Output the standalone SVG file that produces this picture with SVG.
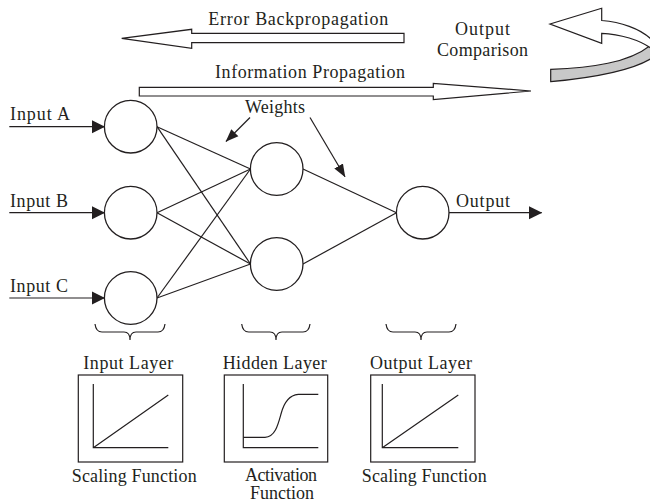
<svg xmlns="http://www.w3.org/2000/svg" width="650" height="504" viewBox="0 0 650 504">
<defs>
<style>
.t{font-family:'Liberation Serif','Times New Roman','DejaVu Serif',serif;font-size:18px;fill:#231f20}
.ln{stroke:#231f20;stroke-width:1.2;fill:none}
.nd{stroke:#231f20;stroke-width:1.3;fill:#fff}
.big{stroke:#231f20;stroke-width:1.2;fill:#fff}
</style>
<marker id="ah" markerWidth="14" markerHeight="14" viewBox="0 0 14 14" refX="13" refY="7" orient="auto" markerUnits="userSpaceOnUse">
<path d="M0,0.3 L13.5,7 L0,13.7 Z" fill="#231f20"/>
</marker>
<marker id="ahs" markerWidth="13" markerHeight="11" viewBox="0 0 13 11" refX="12.5" refY="5.5" orient="auto" markerUnits="userSpaceOnUse">
<path d="M0,0.5 L13,5.5 L0,10.5 Z" fill="#231f20"/>
</marker>
</defs>
<rect width="650" height="504" fill="#fff"/>

<g font-family="'Liberation Serif','Times New Roman','DejaVu Serif',serif" font-size="18">
<g id="error-backprop">
<path class="big" d="M121.7,38.3 L191.7,29.3 L191.7,33.3 L404,33.3 L404,42.7 L191.7,42.7 L191.7,48.3 Z"/>
<text class="t" x="208.3" y="25" textLength="180" lengthAdjust="spacing">Error Backpropagation</text>
</g>
<g id="info-prop">
<path class="big" d="M139.3,87.3 L433.3,87.3 L433.3,83.3 L531,91 L433.3,99.5 L433.3,96 L139.3,96 Z"/>
<text class="t" x="215" y="78" textLength="190" lengthAdjust="spacing">Information Propagation</text>
</g>
<g id="output-comparison">
<path d="M550.7,69.3 C590,68 630,63 652,44 L652,58 C630,72 590,78 550.7,81.7 Z" fill="#c8c8c8" stroke="#231f20" stroke-width="1.2"/>
<path class="big" d="M550,24 L601.7,8.3 L601.7,20.5 C620,22 640,28 652,40 L652,49 C640,40 620,34 601.7,33.3 L601.7,43.3 Z"/>
<text class="t" x="455" y="35" textLength="55" lengthAdjust="spacing">Output</text>
<text class="t" x="437" y="55.5" textLength="91" lengthAdjust="spacing">Comparison</text>
</g>

<g id="connectors">
<line class="ln" x1="9.3" y1="126.7" x2="104.5" y2="126.7" marker-end="url(#ah)"/>
<line class="ln" x1="9.3" y1="212.7" x2="104.5" y2="212.7" marker-end="url(#ah)"/>
<line class="ln" x1="9.3" y1="298" x2="104.5" y2="298" marker-end="url(#ah)"/>
<line class="ln" x1="157" y1="126.7" x2="250.5" y2="169"/>
<line class="ln" x1="157" y1="126.7" x2="250.5" y2="264"/>
<line class="ln" x1="157" y1="212.7" x2="250.5" y2="169"/>
<line class="ln" x1="157" y1="212.7" x2="250.5" y2="264"/>
<line class="ln" x1="157" y1="298" x2="250.5" y2="169"/>
<line class="ln" x1="157" y1="298" x2="250.5" y2="264"/>
<line class="ln" x1="303" y1="169" x2="396.5" y2="212.7"/>
<line class="ln" x1="303" y1="264" x2="396.5" y2="212.7"/>
<line class="ln" x1="449" y1="212.7" x2="541.7" y2="212.7" marker-end="url(#ah)"/>
<line class="ln" x1="250" y1="117.5" x2="226" y2="141.5" marker-end="url(#ahs)"/>
<line class="ln" x1="310" y1="117.5" x2="345" y2="176.7" marker-end="url(#ahs)"/>
</g>

<text class="t" x="10" y="120" textLength="60" lengthAdjust="spacing">Input A</text>
<text class="t" x="10" y="206.5" textLength="58" lengthAdjust="spacing">Input B</text>
<text class="t" x="10" y="291.5" textLength="58" lengthAdjust="spacing">Input C</text>
<text class="t" x="245" y="112.7" textLength="60" lengthAdjust="spacing">Weights</text>
<text class="t" x="456" y="207" textLength="54" lengthAdjust="spacing">Output</text>

<g id="input-a"><circle class="nd" cx="130.7" cy="126.7" r="26.3"/></g>
<g id="input-b"><circle class="nd" cx="130.7" cy="212.7" r="26.3"/></g>
<g id="input-c"><circle class="nd" cx="130.7" cy="298" r="26.3"/></g>
<g id="hidden-1"><circle class="nd" cx="276.7" cy="169" r="26.3"/></g>
<g id="hidden-2"><circle class="nd" cx="276.7" cy="264" r="26.3"/></g>
<g id="output-node"><circle class="nd" cx="422.7" cy="212.7" r="26.3"/></g>

<g id="input-layer">
<path class="ln" d="M95,324 Q96,332 102,332 L124,332 Q130,332 130,340 Q130,332 136,332 L158,332 Q164,332 165,324"/>
<text class="t" x="83.3" y="369.3" textLength="90" lengthAdjust="spacing">Input Layer</text>
<rect class="ln" x="78.3" y="375" width="104.4" height="87"/>
<path class="ln" d="M93.3,384 L93.3,447.7 L168.3,447.7 M93.3,447.7 L168.3,395"/>
<text class="t" x="71.7" y="481.7" textLength="125" lengthAdjust="spacing">Scaling Function</text>
</g>
<g id="hidden-layer">
<path class="ln" d="M241.7,324 Q242.7,332 248.7,332 L270,332 Q276,332 276,340 Q276,332 282,332 L303,332 Q309,332 310,324"/>
<text class="t" x="222.7" y="369.3" textLength="104" lengthAdjust="spacing">Hidden Layer</text>
<rect class="ln" x="224.3" y="375" width="103.4" height="87"/>
<path class="ln" d="M243.3,384 L243.3,447.7 L318.3,447.7"/>
<path class="ln" d="M243.3,437.3 L265,437.3 C275,437 278,425 281,414 C284,402 290,395 298.3,394.3 L318.3,394.3"/>
<text class="t" x="245" y="480.5" textLength="72" lengthAdjust="spacing">Activation</text>
<text class="t" x="250" y="499" textLength="64" lengthAdjust="spacing">Function</text>
</g>
<g id="output-layer">
<path class="ln" d="M386,324 Q387,332 393,332 L415,332 Q421,332 421,340 Q421,332 427,332 L449,332 Q455,332 456,324"/>
<text class="t" x="370" y="369.3" textLength="102" lengthAdjust="spacing">Output Layer</text>
<rect class="ln" x="370.7" y="375" width="104.3" height="87"/>
<path class="ln" d="M382.3,384 L382.3,447.7 L458.3,447.7 M382.3,447.7 L458.3,395"/>
<text class="t" x="361.7" y="481.7" textLength="125" lengthAdjust="spacing">Scaling Function</text>
</g>
</g>
</svg>
